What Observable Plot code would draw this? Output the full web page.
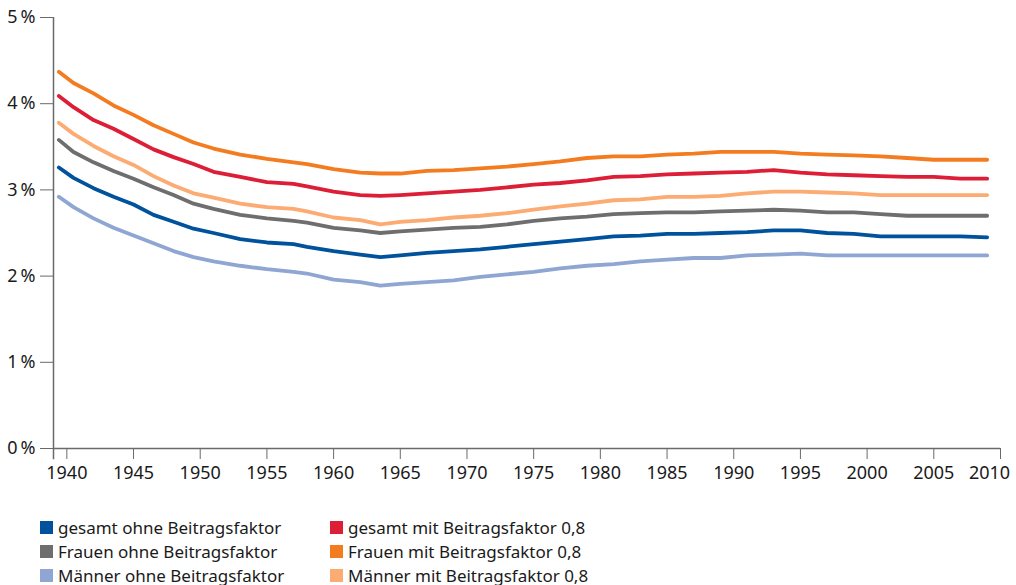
<!DOCTYPE html>
<html>
<head>
<meta charset="utf-8">
<script src="https://cdn.jsdelivr.net/npm/d3@7"></script>
<script src="https://cdn.jsdelivr.net/npm/@observablehq/plot@0.6"></script>
<style>
  body { margin: 0; background: #fff; font-family: "Noto Sans", sans-serif; }
  #chart { position: relative; width: 1016px; height: 585px; overflow: hidden; }
  #legend { position: absolute; left: 40px; top: 515px; display: grid; grid-template-columns: 290px 300px; grid-auto-rows: 24px; font-size: 17px; color: #1a1a1a; }
  .item { display: flex; align-items: center; white-space: nowrap; }
  .sw { width: 13px; height: 13px; margin-right: 5px; flex: none; }
</style>
</head>
<body>
<div id="chart"></div>
<script>
const years = [1939.4,1940.5,1942,1943.5,1945,1946.5,1948,1949.5,1951,1953,1955,1957,1958,1960,1962,1963.5,1965,1967,1969,1971,1973,1975,1977,1979,1981,1983,1985,1987,1989,1991,1993,1995,1997,1999,2001,2003,2005,2007,2009];

const gesamtOhne  = [3.26,3.14,3.02,2.92,2.83,2.71,2.63,2.55,2.50,2.43,2.39,2.37,2.34,2.29,2.25,2.22,2.24,2.27,2.29,2.31,2.34,2.37,2.40,2.43,2.46,2.47,2.49,2.49,2.50,2.51,2.53,2.53,2.50,2.49,2.46,2.46,2.46,2.46,2.45];
const frauenOhne  = [3.58,3.44,3.32,3.22,3.13,3.03,2.94,2.84,2.78,2.71,2.67,2.64,2.62,2.56,2.53,2.50,2.52,2.54,2.56,2.57,2.60,2.64,2.67,2.69,2.72,2.73,2.74,2.74,2.75,2.76,2.77,2.76,2.74,2.74,2.72,2.70,2.70,2.70,2.70];
const maennerOhne = [2.92,2.80,2.67,2.56,2.47,2.38,2.29,2.22,2.17,2.12,2.08,2.05,2.03,1.96,1.93,1.89,1.91,1.93,1.95,1.99,2.02,2.05,2.09,2.12,2.14,2.17,2.19,2.21,2.21,2.24,2.25,2.26,2.24,2.24,2.24,2.24,2.24,2.24,2.24];
const gesamtMit   = [4.09,3.96,3.81,3.71,3.59,3.47,3.38,3.30,3.21,3.15,3.09,3.07,3.04,2.98,2.94,2.93,2.94,2.96,2.98,3.00,3.03,3.06,3.08,3.11,3.15,3.16,3.18,3.19,3.20,3.21,3.23,3.20,3.18,3.17,3.16,3.15,3.15,3.13,3.13];
const frauenMit   = [4.37,4.24,4.12,3.98,3.87,3.75,3.65,3.55,3.48,3.41,3.36,3.32,3.30,3.24,3.20,3.19,3.19,3.22,3.23,3.25,3.27,3.30,3.33,3.37,3.39,3.39,3.41,3.42,3.44,3.44,3.44,3.42,3.41,3.40,3.39,3.37,3.35,3.35,3.35];
const maennerMit  = [3.78,3.65,3.51,3.39,3.29,3.16,3.05,2.96,2.91,2.84,2.80,2.78,2.75,2.68,2.65,2.60,2.63,2.65,2.68,2.70,2.73,2.77,2.81,2.84,2.88,2.89,2.92,2.92,2.93,2.96,2.98,2.98,2.97,2.96,2.94,2.94,2.94,2.94,2.94];

const seriesNames = ["gesamt ohne Beitragsfaktor","Frauen ohne Beitragsfaktor","Männer ohne Beitragsfaktor","gesamt mit Beitragsfaktor 0,8","Frauen mit Beitragsfaktor 0,8","Männer mit Beitragsfaktor 0,8"];
const seriesValues = [gesamtOhne, frauenOhne, maennerOhne, gesamtMit, frauenMit, maennerMit];
const seriesColors = ["#00529c","#6e6e6e","#8fa6d3","#dc1f36","#f47c20","#fcab72"];
const legendOrder = [0,3,1,4,2,5];

const xTicks = [1940,1945,1950,1955,1960,1965,1970,1975,1980,1985,1990,1995,2000,2005,2010];
const xLastTick = [2010];
const yTicks = [0,1,2,3,4,5];

const rows = [];
seriesNames.forEach((name, i) => {
  years.forEach((yr, j) => rows.push({series: name, year: yr, value: seriesValues[i][j]}));
});

const axisColor = "#6a6a6a";
const chart = Plot.plot({
  width: 1016,
  height: 490,
  marginLeft: 53,
  marginRight: 16,
  marginTop: 17,
  marginBottom: 42,
  style: {fontFamily: "Noto Sans", fontSize: "18px", color: "#1a1a1a", background: "#fff", overflow: "visible"},
  x: {domain: [1939, 2010]},
  y: {domain: [0, 5]},
  color: {domain: seriesNames, range: seriesColors},
  marks: [
    Plot.ruleY([0], {stroke: axisColor, strokeWidth: 1.5}),
    Plot.ruleX([1939], {y1: -0.13, y2: 5, stroke: axisColor, strokeWidth: 1.5}),
    Plot.axisX({ticks: xTicks, tickFormat: d => (d === 2010 ? "" : String(d)), tickSize: 11, tickPadding: 7, stroke: axisColor, fill: "#1a1a1a", label: null}),
    Plot.axisX({ticks: xLastTick, tickFormat: d => String(d), tickSize: 0, tickPadding: 18, dx: -11, fill: "#1a1a1a", label: null}),
    Plot.axisY({ticks: yTicks, tickFormat: d => d + "\u202F%", tickSize: 13, tickPadding: 5, stroke: axisColor, fill: "#1a1a1a", label: null}),
    Plot.line(rows, {x: "year", y: "value", z: "series", stroke: "series", strokeWidth: 3.8, strokeLinejoin: "round", strokeLinecap: "round"})
  ]
});

const root = document.getElementById("chart");
root.appendChild(chart);

const legend = document.createElement("div");
legend.id = "legend";
legendOrder.forEach(i => {
  const item = document.createElement("div");
  item.className = "item";
  const sw = document.createElement("span");
  sw.className = "sw";
  sw.style.background = seriesColors[i];
  const label = document.createElement("span");
  label.textContent = seriesNames[i];
  item.appendChild(sw);
  item.appendChild(label);
  legend.appendChild(item);
});
root.appendChild(legend);
</script>
</body>
</html>
